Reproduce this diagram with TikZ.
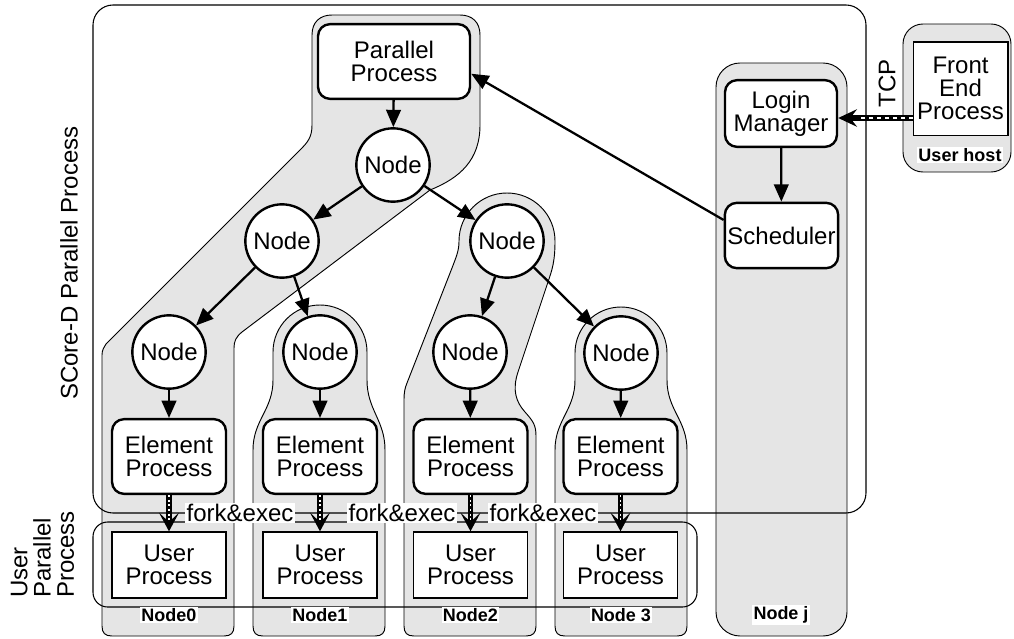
\documentclass[tikz,border=0pt]{standalone}
\usepackage{fontspec}
\setmainfont{Liberation Sans}
\usetikzlibrary{arrows.meta}

\begin{document}
\begin{tikzpicture}[x=0.75pt,y=-0.75pt,
  every node/.style={font=\fontsize{18}{17.5}\selectfont},
  blob/.style={draw=black, line width=0.7pt, fill=black!10},
  frame/.style={draw=black, line width=0.8pt},
  circ/.style={circle, draw, line width=1.8pt, fill=white, minimum size=55pt, inner sep=0pt},
  proc/.style={draw, line width=1.8pt, fill=white, rounded corners=9pt, align=center, inner sep=0pt},
  upro/.style={draw, line width=1pt, fill=white, align=center, minimum width=85.5pt, minimum height=49.5pt, inner sep=0pt},
  link/.style={line width=1.7pt, -{Triangle[length=13pt,width=11pt]}},
  forkarrow/.style={line width=4pt, -{Stealth[length=14pt,width=15pt,inset=7pt]}},
  hatch/.style={white, line width=0.9pt, dash pattern=on 1.5pt off 2pt},
  hostlabel/.style={font=\fontsize{13.5}{15}\selectfont\bfseries, fill=white, inner sep=1pt},
  forklabel/.style={fill=white, inner sep=1pt},
  sidelabel/.style={rotate=90, align=left, inner sep=0pt}
]
\useasboundingbox (0,0) rectangle (1014,639);

% ---- grey groupings, one per host ----
% Node0 group: parallel process, top of tree and leftmost column
\path[blob] (102,626) -- (102,355) .. controls (102,350) and (104,347) .. (106,344)
  -- (300,150) .. controls (308,142) and (312,137) .. (312,125) -- (312,35)
  .. controls (312,22) and (320,15) .. (332,15) -- (460,15)
  .. controls (472,15) and (480,22) .. (480,35) -- (480,125)
  .. controls (480,160) and (460,178) .. (430,190) -- (242,332)
  .. controls (236,337) and (234,341) .. (234,348) -- (234,626)
  .. controls (234,633) and (231,636) .. (224,636) -- (112,636)
  .. controls (105,636) and (102,633) .. (102,626) -- cycle;
% Node1 group
\path[blob] (253,626) -- (253,450) .. controls (253,420) and (273,410) .. (273,380)
  -- (273,352) arc (180:360:47) -- (367,380)
  .. controls (367,410) and (385,420) .. (385,450) -- (385,626)
  .. controls (385,633) and (382,636) .. (375,636) -- (263,636)
  .. controls (256,636) and (253,633) .. (253,626) -- cycle;
% Node2 group
\path[blob] (404,626) -- (404,400) .. controls (404,392) and (405,388) .. (407,383)
  -- (452,268) .. controls (457,255) and (459,250) .. (459,241)
  arc (180:360:48) .. controls (555,262) and (552,270) .. (548,282)
  -- (518,372) .. controls (512,390) and (516,402) .. (525,412)
  .. controls (533,421) and (536,425) .. (536,436) -- (536,626)
  .. controls (536,633) and (533,636) .. (526,636) -- (414,636)
  .. controls (407,636) and (404,633) .. (404,626) -- cycle;
% Node 3 group
\path[blob] (555,626) -- (555,450) .. controls (555,420) and (575,410) .. (575,380)
  -- (575,353) arc (180:360:46) -- (667,380)
  .. controls (667,410) and (687,420) .. (687,450) -- (687,626)
  .. controls (687,633) and (684,636) .. (677,636) -- (565,636)
  .. controls (558,636) and (555,633) .. (555,626) -- cycle;
% Node j and user host
\path[blob, rounded corners=18pt] (716,63) rectangle (847,636);
\path[blob, rounded corners=15pt] (903,24) rectangle (1011,172);

% ---- process frames ----
\draw[frame, rounded corners=15pt] (93,5) rectangle (866,513);
\draw[frame, rounded corners=11pt] (93,522) rectangle (697,607);

% ---- processes and tree nodes ----
\node[proc, minimum width=114pt, minimum height=56pt] (pp) at (394,61.5) {Parallel\\Process};
\node[circ] (n0) at (393,165) {Node};
\node[circ] (nl) at (282,241) {Node};
\node[circ] (nr) at (507,241) {Node};
\node[circ] (a0) at (169,352) {Node};
\node[circ] (a1) at (320,352) {Node};
\node[circ] (a2) at (470,352) {Node};
\node[circ] (a3) at (621,353) {Node};
\foreach \i/\x in {0/169,1/320,2/470.5,3/620.5}{
  \node[proc, minimum width=85.5pt, minimum height=56pt] (ep\i) at (\x,456.5) {Element\\Process};
  \node[upro] (up\i) at (\x,565) {User\\Process};
}
\node[proc, minimum width=84pt, minimum height=50pt] (lm) at (781,113.5) {Login\\Manager};
\node[proc, minimum width=85pt, minimum height=49pt] (sch) at (781.5,235.5) {Scheduler};
\node[draw, line width=1pt, fill=white, align=center, minimum width=71pt, minimum height=70pt, inner sep=0pt] (fe) at (960.5,88.5) {Front\\End\\Process};

% ---- tree connectors ----
\draw[link] (pp) -- (n0);
\draw[link] (n0) -- (nl);
\draw[link] (n0) -- (nr);
\draw[link] (nl) -- (a0);
\draw[link] (nl) -- (a1);
\draw[link] (nr) -- (a2);
\draw[link] (nr) -- (a3);
\foreach \i in {0,1,2,3}{ \draw[link] (a\i) -- (ep\i); }
\draw[link] (lm) -- (sch);
\draw[link] (sch.165) -- (pp.-9);

% ---- fork&exec: striped arrows ----
\foreach \i in {0,1,2,3}{
  \draw[forkarrow] (ep\i) -- (up\i);
  \draw[hatch, shorten >=8pt] (ep\i) -- (up\i);
}
\node[forklabel] (fk1) at (240,513) {fork\&exec};
\node[forklabel] (fk2) at (402,513) {fork\&exec};
\node[forklabel] (fk3) at (543,513) {fork\&exec};

% ---- TCP link from the user host ----
\coordinate (tcpy) at (0,118);
\draw[line width=3.8pt, -{Stealth[length=14pt,width=13pt,inset=5pt]}] (fe.west |- tcpy) -- (lm.east |- tcpy);
\draw[white, line width=1pt, dash pattern=on 3pt off 3pt, shorten >=14pt] (fe.west |- tcpy) -- (lm.east |- tcpy);
\node[rotate=90, inner sep=0pt] (tcp) at (887,83) {TCP};

% ---- host labels ----
\node[hostlabel] (h0) at (169,615) {Node0};
\node[hostlabel] (h1) at (320,615) {Node1};
\node[hostlabel] (h2) at (470.5,615) {Node2};
\node[hostlabel] (h3) at (621,615) {Node 3};
\node[hostlabel] (hj) at (781,615) {Node j};
\node[hostlabel] (hu) at (960,155) {User host};

% ---- side titles ----
\node[sidelabel] (t1) at (69,263) {SCore-D Parallel Process};
\node[sidelabel, anchor=west] (t2) at (42.5,598) {User\\Parallel\\Process};
\end{tikzpicture}
\end{document}
